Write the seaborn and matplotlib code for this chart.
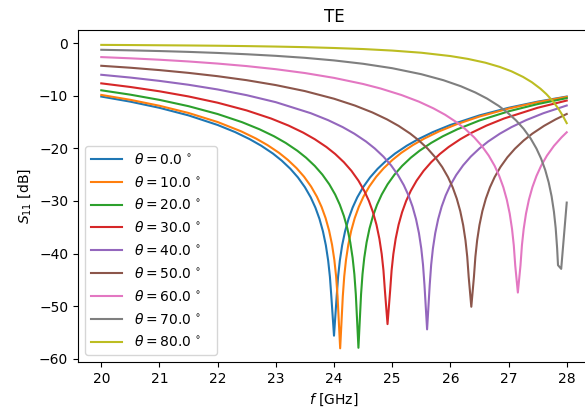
import matplotlib
matplotlib.use("Agg")
import matplotlib.pyplot as plt
import seaborn as sns
import pandas as pd

thetas = [0.0, 10.0, 20.0, 30.0, 40.0, 50.0, 60.0, 70.0, 80.0]

f0 = [20, 20.5, 21, 21.5, 22, 22.3, 22.55, 22.75, 22.95, 23.1, 23.25, 23.38, 23.5, 23.6, 23.68, 23.75, 23.81, 23.86, 23.9, 23.93, 23.955,
      24.0,
      24.045, 24.07, 24.1, 24.14, 24.19, 24.25, 24.32, 24.4, 24.5, 24.62, 24.75, 24.9, 25.05, 25.25, 25.45, 25.7, 26, 26.5, 27, 27.5, 28]
s0 = [-10.15, -11.12, -12.29, -13.73, -15.55, -16.90, -18.24, -19.50, -20.98, -22.31, -23.88, -25.52, -27.38, -29.31, -31.25, -33.39, -35.77, -38.42, -41.35, -44.44, -48.28,
      -55.6,
      -48.28, -44.44, -41.35, -38.42, -35.77, -33.39, -31.25, -29.31, -27.38, -25.52, -23.88, -22.31, -20.98, -19.50, -18.24, -16.90, -15.55, -13.73, -12.29, -11.12, -10.15]

f10 = [20, 20.5, 21, 21.5, 22, 22.406, 22.656, 22.856, 23.056, 23.206, 23.356, 23.486, 23.606, 23.706, 23.786, 23.856, 23.916, 23.966, 24.006, 24.036, 24.061,
       24.106,
       24.151, 24.176, 24.206, 24.246, 24.296, 24.356, 24.426, 24.506, 24.606, 24.726, 24.856, 25.006, 25.156, 25.356, 25.556, 25.806, 26.106, 26.5, 27, 27.5, 28]
s10 = [-9.84, -10.77, -11.90, -13.27, -14.99, -16.77, -18.11, -19.37, -20.85, -22.18, -23.75, -25.39, -27.25, -29.18, -31.12, -33.26, -35.64, -38.29, -41.21, -44.31, -48.15,
       -58.0,
       -48.15, -44.31, -41.21, -38.29, -35.64, -33.26, -31.12, -29.18, -27.25, -25.39, -23.75, -22.18, -20.85, -19.37, -18.11, -16.77, -15.42, -13.95, -12.44, -11.22, -10.21]

f20 = [20, 20.5, 21, 21.5, 22, 22.42, 22.72, 22.97, 23.17, 23.37, 23.52, 23.67, 23.8, 23.92, 24.02, 24.1, 24.17, 24.23, 24.28, 24.32, 24.35, 24.375,
       24.42,
       24.465, 24.49, 24.52, 24.56, 24.61, 24.67, 24.74, 24.82, 24.92, 25.04, 25.17, 25.32, 25.47, 25.67, 25.87, 26.12, 26.5, 27, 27.5, 28]
s20 = [-8.96, -9.79, -10.78, -11.98, -13.47, -15.02, -16.37, -17.70, -18.96, -20.45, -21.77, -23.34, -24.98, -26.84, -28.77, -30.71, -32.85, -35.23, -37.88, -40.81, -43.90, -47.74,
       -57.9,
       -47.74, -43.90, -40.81, -37.88, -35.23, -32.85, -30.71, -28.77, -26.84, -24.98, -23.34, -21.77, -20.45, -18.96, -17.70, -16.37, -14.70, -12.96, -11.58, -10.45]

f30 = [20, 20.5, 21, 21.5, 22, 22.5, 22.92, 23.22, 23.47, 23.67, 23.87, 24.02, 24.17, 24.3, 24.42, 24.52, 24.6, 24.67, 24.73, 24.78, 24.82, 24.85, 24.875,
       24.92,
       24.965, 24.99, 25.02, 25.06, 25.11, 25.17, 25.24, 25.32, 25.42, 25.54, 25.67, 25.82, 25.97, 26.17, 26.37, 26.62, 26.92, 27.5, 28]
s30 = [-7.64, -8.33, -9.15, -10.13, -11.32, -12.79, -14.33, -15.67, -17.00, -18.26, -19.74, -21.06, -22.63, -24.27, -26.13, -28.06, -29.99, -32.14, -34.52, -37.17, -40.09, -43.19, -47.03,
       -53.4,
       -47.03, -43.19, -40.09, -37.17, -34.52, -32.14, -29.99, -28.06, -26.13, -24.27, -22.63, -21.06, -19.74, -18.26, -17.00, -15.67, -14.33, -12.28, -10.91]

f40 = [20, 20.5, 21, 21.5, 22, 22.5, 23, 23.6, 23.9, 24.15, 24.35, 24.55, 24.7, 24.85, 24.98, 25.1, 25.2, 25.28, 25.35, 25.41, 25.46, 25.5, 25.53, 25.555,
       25.6,
       25.645, 25.67, 25.7, 25.74, 25.79, 25.85, 25.92, 26.0, 26.1, 26.22, 26.35, 26.5, 26.65, 26.85, 27.05, 27.3, 27.6, 28]
s40 = [-6.01, -6.54, -7.17, -7.91, -8.80, -9.89, -11.22, -13.31, -14.64, -15.96, -17.21, -18.69, -20.01, -21.57, -23.21, -25.07, -27.00, -28.93, -31.07, -33.46, -36.11, -39.03, -42.13, -45.97,
       -54.4,
       -45.97, -42.13, -39.03, -36.11, -33.46, -31.07, -28.93, -27.00, -25.07, -23.21, -21.57, -20.01, -18.69, -17.21, -15.96, -14.64, -13.31, -11.85]

f50 = [20, 20.5, 21, 21.5, 22, 22.5, 23, 23.5, 24, 24.36, 24.66, 24.91, 25.11, 25.31, 25.46, 25.61, 25.74, 25.86, 25.96, 26.04, 26.11, 26.17, 26.22, 26.26, 26.29, 26.315,
       26.36,
       26.405, 26.43, 26.46, 26.5, 26.55, 26.61, 26.68, 26.76, 26.86, 26.98, 27.11, 27.26, 27.41, 27.61, 27.81, 28]
s50 = [-4.30, -4.67, -5.12, -5.65, -6.28, -7.04, -7.97, -9.11, -10.56, -11.86, -13.17, -14.48, -15.72, -17.19, -18.50, -20.06, -21.69, -23.55, -25.48, -27.41, -29.55, -31.93, -34.58, -37.50, -40.60, -44.44,
       -50.1,
       -44.44, -40.60, -37.50, -34.58, -31.93, -29.55, -27.41, -25.48, -23.55, -21.69, -20.06, -18.50, -17.19, -15.72, -14.48, -13.46]

f60 = [20, 20.5, 21, 21.5, 22, 22.5, 23, 23.5, 24, 24.5, 24.8, 25.16, 25.46, 25.71, 25.91, 26.11, 26.26, 26.41, 26.54, 26.66, 26.76, 26.84, 26.91, 26.97, 27.02, 27.06, 27.09, 27.115,
       27.16,
       27.205, 27.23, 27.26, 27.3, 27.35, 27.41, 27.48, 27.56, 27.66, 27.78, 27.91, 28]
s60 = [-2.65, -2.88, -3.15, -3.48, -3.88, -4.36, -4.95, -5.68, -6.60, -7.76, -8.62, -9.86, -11.12, -12.40, -13.61, -15.06, -16.36, -17.91, -19.53, -21.38, -23.30, -25.24, -27.37, -29.75, -32.40, -35.33, -38.42, -42.26,
       -47.4,
       -42.26, -38.42, -35.33, -32.40, -29.75, -27.37, -25.24, -23.30, -21.38, -19.53, -17.91, -16.94]

f70 = [20, 20.5, 21, 21.5, 22, 22.5, 23, 23.5, 24, 24.5, 25, 25.5, 25.88, 26.18, 26.43, 26.63, 26.83, 26.98, 27.13, 27.26, 27.38, 27.48, 27.56, 27.63, 27.69, 27.74, 27.78, 27.81, 27.835,
       27.85, 27.905, 28]
s70 = [-1.26, -1.37, -1.50, -1.66, -1.86, -2.11, -2.41, -2.79, -3.28, -3.92, -4.76, -5.90, -7.04, -8.19, -9.38, -10.53, -11.92, -13.18, -14.69, -16.29, -18.12, -20.04, -21.96, -24.09, -26.47, -29.11, -32.03, -35.13, -38.97,
       -42.2, -42.9, -30.3]

f80 = [20, 20.5, 21, 21.5, 22, 22.5, 23, 23.5, 24, 24.5, 25, 25.5, 26, 26.3, 26.6, 26.85, 27.05, 27.25, 27.4, 27.55, 27.65, 27.75, 27.85, 27.93, 28]
s80 = [-0.33, -0.36, -0.40, -0.44, -0.49, -0.56, -0.65, -0.76, -0.92, -1.12, -1.41, -1.82, -2.45, -2.99, -3.71, -4.52, -5.35, -6.42, -7.42, -8.67, -9.68, -10.88, -12.34, -13.76, -15.2]

freqs = [f0, f10, f20, f30, f40, f50, f60, f70, f80]
s11s = [s0, s10, s20, s30, s40, s50, s60, s70, s80]

rows = []
labels = []
for th, fl, sl in zip(thetas, freqs, s11s):
    lab = (r"$\theta = %.1f\,^\circ$" % th) + "\u2002\u2002"
    labels.append(lab)
    for fv, sv in zip(fl, sl):
        rows.append({"f": fv, "S11": sv, "theta": lab})
df = pd.DataFrame(rows)

fig = plt.figure(figsize=(5.85, 4.17), dpi=100)
ax = fig.add_axes([78 / 585, (417 - 362) / 417, (590 - 78) / 585, (362 - 30) / 417])
sns.lineplot(data=df, x="f", y="S11", hue="theta", hue_order=labels,
             palette=sns.color_palette("tab10", 9), estimator=None, sort=True,
             linewidth=1.5, ax=ax)
handles, labs = ax.get_legend_handles_labels()
ax.legend(handles, labs, loc="lower left", labelspacing=0.565, handlelength=2.3)
ax.set_xlabel("$f$ [GHz]")
ax.set_ylabel("$S_{11}$ [dB]")
ax.set_title("TE")
ax.set_xticks([20, 21, 22, 23, 24, 25, 26, 27, 28])
ax.set_yticks([0, -10, -20, -30, -40, -50, -60])
ax.set_xlim(19.6, 28.4)
ax.set_ylim(-60.6, 2.5)
fig.savefig("out.png", dpi=100)
